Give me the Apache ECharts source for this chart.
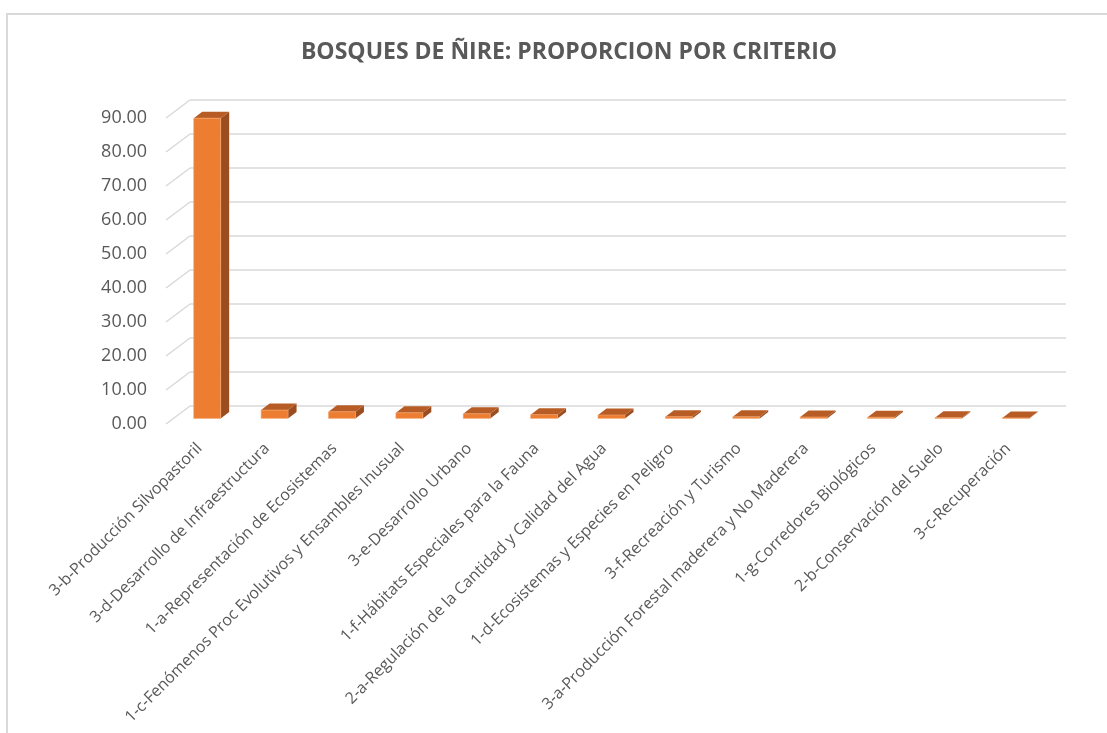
<!DOCTYPE html>
<html>
<head>
<meta charset="utf-8">
<title>Bosques de Ñire</title>
<script src="https://cdn.jsdelivr.net/npm/echarts@6/dist/echarts.min.js"></script>
<style>
  html, body { margin: 0; padding: 0; background: #fff; }
  #card { position: absolute; left: 6px; top: 13px; width: 1110px; height: 730px;
          border-left: 2px solid #d9d9d9; border-top: 2px solid #d9d9d9; }
  #chart { position: absolute; left: 0; top: 0; width: 1107px; height: 733px; }
</style>
</head>
<body>
<div id="card"></div>
<div id="chart"></div>
<script>
var categories = [
  '3-b-Producción Silvopastoril',
  '3-d-Desarrollo de Infraestructura',
  '1-a-Representación de Ecosistemas',
  '1-c-Fenómenos Proc Evolutivos y Ensambles Inusual',
  '3-e-Desarrollo Urbano',
  '1-f-Hábitats Especiales para la Fauna',
  '2-a-Regulación de la Cantidad y Calidad del Agua',
  '1-d-Ecosistemas y Especies en Peligro',
  '3-f-Recreación y Turismo',
  '3-a-Producción Forestal maderera y No Maderera',
  '1-g-Corredores Biológicos',
  '2-b-Conservación del Suelo',
  '3-c-Recuperación'
]
var values = [88.3, 2.45, 1.95, 1.65, 1.35, 1.1, 1.0, 0.5, 0.45, 0.4, 0.35, 0.2, 0.15]
var yTicks = [0, 10, 20, 30, 40, 50, 60, 70, 80, 90]

var myChart = echarts.init(document.getElementById('chart'))

// 3d look: back wall is shifted right/up from the front plane
var WALL_DX = 24, WALL_DY = 18
var BAR_OFF_X = 7.5, BAR_OFF_Y = 5.6, BAR_DX = 8.5, BAR_DY = 6.5
var font = "'Open Sans', 'Noto Sans', sans-serif"

function renderWall(params, api) {
  var p = api.coord([0, api.value(1)])
  var left = p[0] - api.size([1, 0])[0] / 2
  return {
    type: 'line',
    shape: { x1: left, y1: p[1], x2: left + WALL_DX, y2: p[1] - WALL_DY },
    style: { stroke: '#d9d9d9', lineWidth: 1.5 },
    silent: true
  }
}

function renderBar(params, api) {
  var i = api.value(0)
  var p0 = api.coord([i, 0])
  var p1 = api.coord([i, api.value(1)])
  var w = api.size([1, 0])[0] * 0.4
  var xl = p0[0] - w / 2 + BAR_OFF_X
  var xr = xl + w
  var yb = p0[1] - BAR_OFF_Y
  var yt = p1[1] - BAR_OFF_Y
  return {
    type: 'group',
    children: [{
      type: 'polygon',
      shape: { points: [[xr, yt], [xr + BAR_DX, yt - BAR_DY], [xr + BAR_DX, yb - BAR_DY], [xr, yb]] },
      style: { fill: '#9c4d1f' }
    }, {
      type: 'polygon',
      shape: { points: [[xl, yt], [xr, yt], [xr + BAR_DX, yt - BAR_DY], [xl + BAR_DX, yt - BAR_DY]] },
      style: { fill: '#b85c25' }
    }, {
      type: 'rect',
      shape: { x: xl, y: yt, width: w, height: yb - yt },
      style: { fill: '#ed7d31', stroke: '#f5a66e', lineWidth: 0.6 }
    }]
  }
}

var option = {
  backgroundColor: 'transparent',
  animation: false,
  title: {
    text: 'BOSQUES DE ÑIRE: PROPORCION POR CRITERIO',
    left: 564,
    top: 36,
    textAlign: 'center',
    textStyle: { fontFamily: font, fontSize: 23, fontWeight: 'bold', color: '#595959' }
  },
  grid: [
    { left: 166, right: 65, top: 118, bottom: 309 },
    { left: 190, right: 41, top: 100, bottom: 327 }
  ],
  xAxis: [{
    gridIndex: 0,
    type: 'category',
    data: categories,
    axisLine: { show: false },
    axisTick: { show: false },
    axisLabel: { interval: 0, rotate: 45, margin: 22, color: '#595959', fontSize: 16, fontFamily: font }
  }, {
    gridIndex: 1,
    type: 'category',
    data: categories,
    show: false
  }],
  yAxis: [{
    gridIndex: 0,
    type: 'value',
    min: 0,
    max: 90,
    interval: 10,
    axisLine: { show: false },
    axisTick: { show: false },
    splitLine: { show: false },
    axisLabel: {
      margin: 19,
      color: '#595959',
      fontSize: 18,
      fontFamily: font,
      formatter: function (v) { return v.toFixed(2) }
    }
  }, {
    gridIndex: 1,
    type: 'value',
    min: 0,
    max: 90,
    interval: 10,
    axisLine: { show: false },
    axisTick: { show: false },
    axisLabel: { show: false },
    splitLine: { lineStyle: { color: '#d9d9d9', width: 1.5 } }
  }],
  series: [{
    type: 'custom',
    xAxisIndex: 0,
    yAxisIndex: 0,
    renderItem: renderWall,
    data: yTicks.map(function (v) { return [0, v] }),
    z: 1,
    silent: true
  }, {
    name: 'Proporción',
    type: 'custom',
    xAxisIndex: 0,
    yAxisIndex: 0,
    renderItem: renderBar,
    data: values.map(function (v, i) { return [i, v] }),
    z: 3
  }]
}
myChart.setOption(option)
</script>
</body>
</html>
